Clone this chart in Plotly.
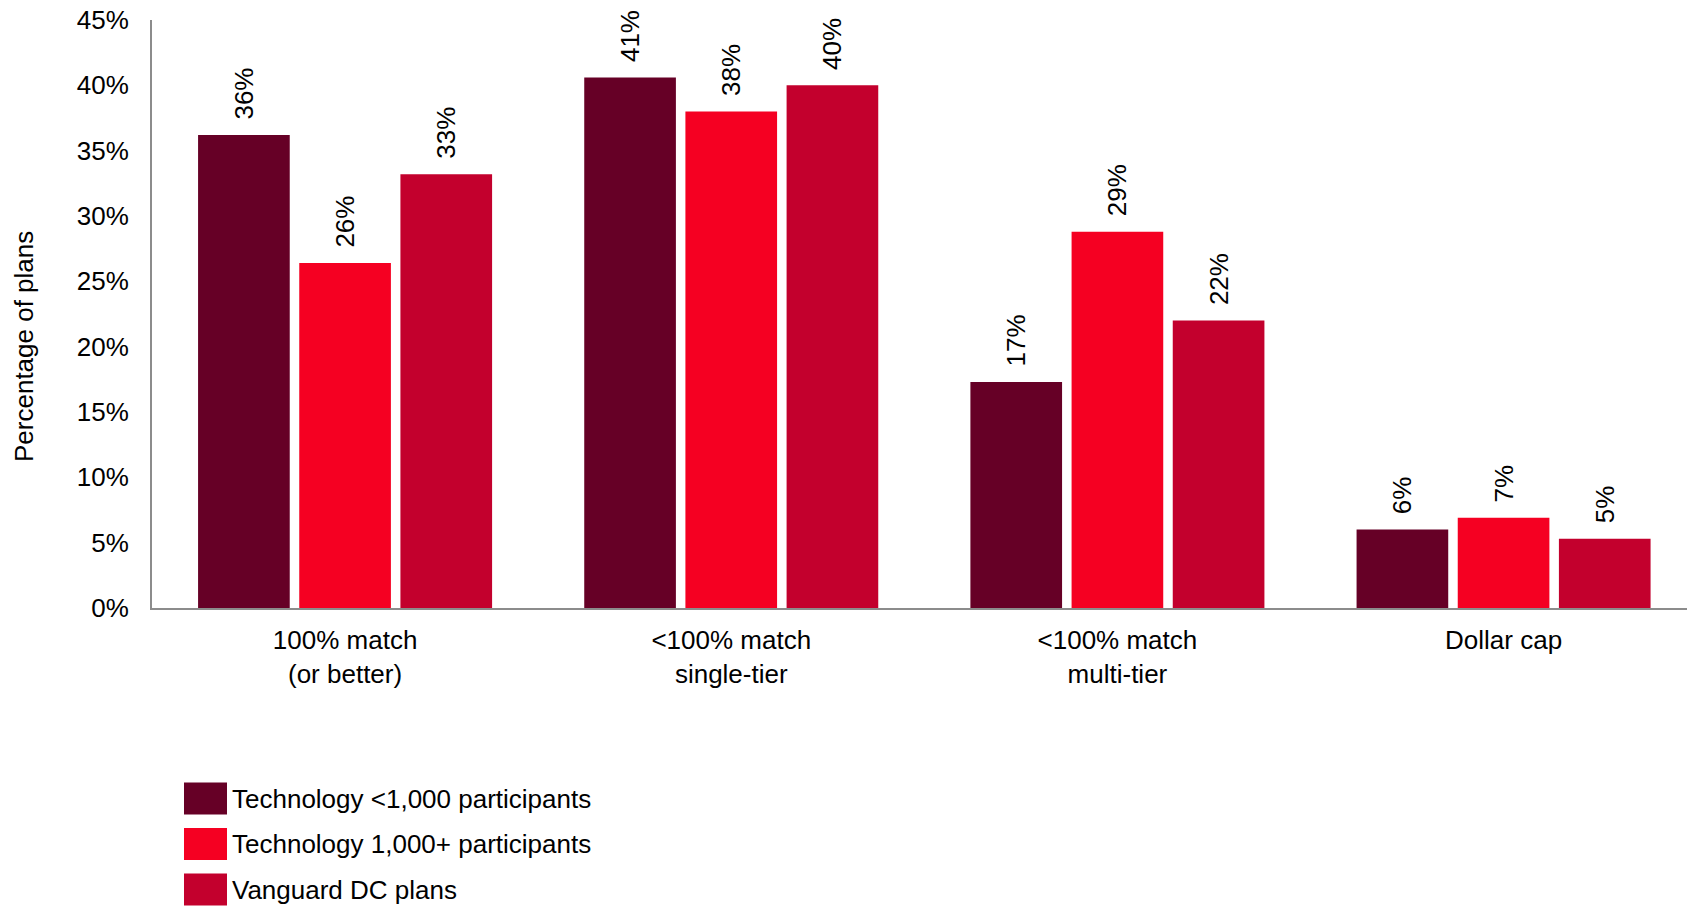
import plotly.graph_objects as go

categories = ["100% match<br>(or better)", "&lt;100% match<br>single-tier",
              "&lt;100% match<br>multi-tier", "Dollar cap"]
series_names = ["Technology &lt;1,000 participants", "Technology 1,000+ participants", "Vanguard DC plans"]
series_colors = ["#660026", "#F50022", "#C3002D"]
tech_small = [36.2, 40.6, 17.3, 6.0]
tech_large = [26.4, 38.0, 28.8, 6.9]
vanguard = [33.2, 40.0, 22.0, 5.3]
tech_small_labels = ["36%", "41%", "17%", "6%"]
tech_large_labels = ["26%", "38%", "29%", "7%"]
vanguard_labels = ["33%", "40%", "22%", "5%"]
y_ticks = [0, 5, 10, 15, 20, 25, 30, 35, 40, 45]
y_tick_text = ["0%", "5%", "10%", "15%", "20%", "25%", "30%", "35%", "40%", "45%"]

FONT = "Liberation Sans, Arial, sans-serif"
FS = 26
series_values = [tech_small, tech_large, vanguard]
series_labels = [tech_small_labels, tech_large_labels, vanguard_labels]

fig = go.Figure()
for name, color, vals, labs in zip(series_names, series_colors, series_values, series_labels):
    fig.add_trace(go.Bar(
        x=categories, y=vals, name=name, text=labs,
        texttemplate="\u00a0\u2009%{text}", textposition="outside", textangle=-90,
        textfont=dict(family=FONT, size=FS, color="#000"),
        marker=dict(color=color, line=dict(width=0)),
        cliponaxis=False, showlegend=False,
    ))

# custom legend (large swatches like the original)
shapes = []
annotations = []
row_top = 174.5   # px below plot bottom
row_pitch = 45.5
sw_h = 32
for i, (name, color) in enumerate(zip(series_names, series_colors)):
    top = row_top + i * row_pitch
    shapes.append(dict(type="rect", xref="paper", yref="paper",
                       xsizemode="pixel", ysizemode="pixel", xanchor=0, yanchor=0,
                       x0=32, x1=75, y0=-(top + sw_h), y1=-top,
                       fillcolor=color, line=dict(width=0)))
    annotations.append(dict(xref="paper", yref="paper", x=0, y=0,
                            xshift=78, yshift=-(top + sw_h / 2),
                            xanchor="left", yanchor="middle", showarrow=False,
                            text=name, font=dict(family=FONT, size=FS, color="#000")))

annotations.append(dict(xref="paper", yref="paper", x=0, y=0, xshift=-128, yshift=261,
                        xanchor="center", yanchor="middle", textangle=-90, showarrow=False,
                        text="Percentage of plans", font=dict(family=FONT, size=FS, color="#000")))

fig.update_layout(
    width=1687, height=906,
    margin=dict(l=152, r=0, t=20, b=298, pad=0),
    paper_bgcolor="white", plot_bgcolor="white",
    barmode="group", bargap=0.214, bargroupgap=0.094,
    font=dict(family=FONT, size=FS, color="#000"),
    shapes=shapes, annotations=annotations,
    showlegend=False,
)
fig.update_xaxes(range=[-0.5, 3.475], showline=True, linecolor="#8c8c8c", linewidth=2,
                 showgrid=False, ticks="", ticklabelstandoff=8,
                 tickfont=dict(family=FONT, size=FS, color="#000"))
fig.update_yaxes(range=[0, 45], tickvals=y_ticks, ticktext=y_tick_text,
                 showline=True, linecolor="#8c8c8c", linewidth=2,
                 showgrid=False, zeroline=False, ticks="", ticklabelstandoff=16,
                 tickfont=dict(family=FONT, size=FS, color="#000"))

fig.write_html("out.html")
